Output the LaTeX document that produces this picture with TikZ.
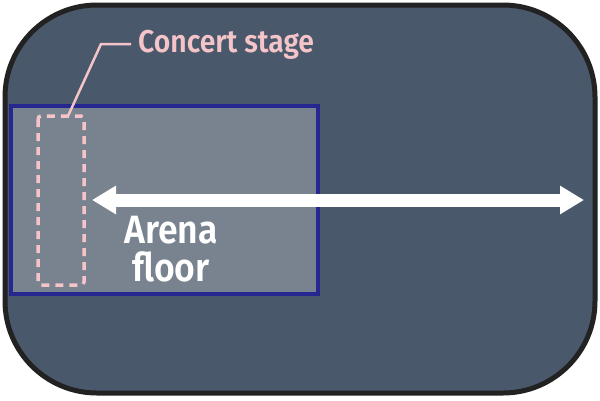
\documentclass[tikz,border=0pt]{standalone}
\usepackage{fontspec}
\setmainfont{Fira Sans}
\newfontfamily\labelfont[FakeStretch=0.9]{Fira Sans SemiBold}
\usetikzlibrary{arrows.meta}
\definecolor{bgfill}{HTML}{4A586B}
\definecolor{floorfill}{HTML}{78838F}
\definecolor{floorline}{HTML}{26288F}
\definecolor{stagepink}{HTML}{F4C4C8}
\definecolor{rimline}{HTML}{222222}
\begin{document}
\begin{tikzpicture}[x=1pt,y=-1pt,
  rim/.style={draw=rimline,line width=5pt,fill=bgfill,rounded corners=92pt},
  floorbox/.style={draw=floorline,line width=3.5pt,fill=floorfill},
  stagebox/.style={draw=stagepink,line width=3.5pt,dash pattern=on 8pt off 6pt,rounded corners=3pt},
  leader/.style={draw=stagepink,line width=2.5pt},
  pinklabel/.style={text=stagepink,font=\labelfont\fontsize{31.5}{34}\selectfont,anchor=west,inner sep=0pt},
  floorlabel/.style={text=white,font=\labelfont\fontsize{39.5}{38}\selectfont,align=center,inner sep=0pt},
  spanarrow/.style={draw=white,line width=13pt,{Triangle[length=24pt,width=27pt]}-{Triangle[length=24pt,width=27pt]}}]
\useasboundingbox (0,0) rectangle (600,400);
\fill[white] (0,0) rectangle (600,400);
\draw[rim] (5,5) rectangle (595,393);
\draw[floorbox] (11,106) rectangle (318,294);
\draw[stagebox] (38,116) rectangle (84,285);
\coordinate (stagetop) at (68,116);
\coordinate (bend) at (101,44);
\node[pinklabel] (stagelbl) at (138,45) {Concert stage};
\draw[leader] (stagetop) -- (bend) -- (131,44);
\coordinate (arrL) at (92,200);
\coordinate (arrR) at (584,200);
\draw[spanarrow] (arrL) -- (arrR);
\node[floorlabel] (floorlbl) at (171,249) {Arena\\floor};
\end{tikzpicture}
\end{document}
